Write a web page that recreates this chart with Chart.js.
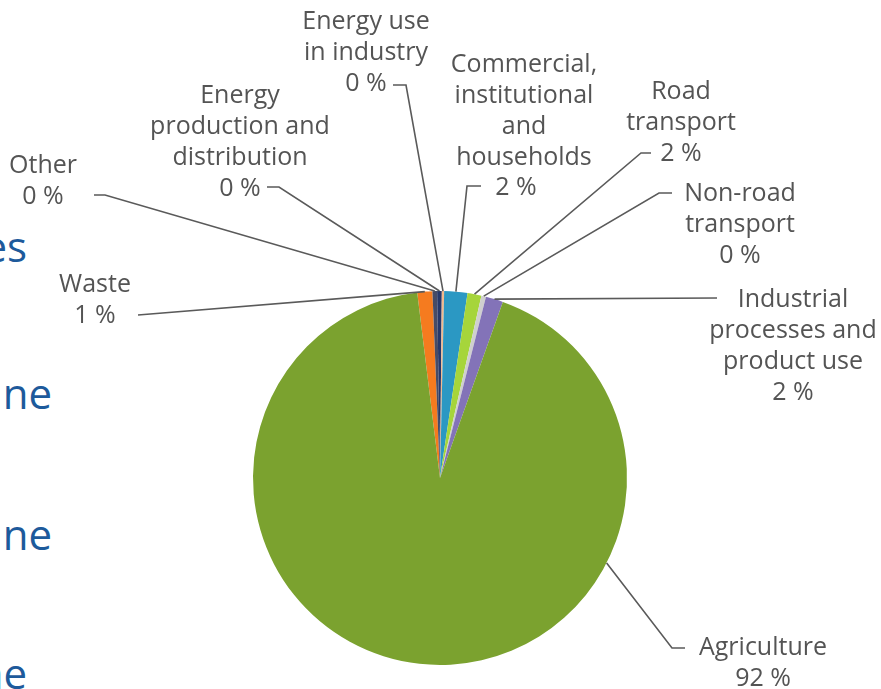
<!DOCTYPE html>
<html>
<head>
<meta charset="utf-8">
<script src="https://cdn.jsdelivr.net/npm/chart.js@4.4.1/dist/chart.umd.min.js"></script>
<style>
  html, body { margin: 0; padding: 0; background: #ffffff; }
  body { width: 881px; height: 689px; position: relative; overflow: hidden; }
  #wrap { position: absolute; left: 0; top: 0; width: 881px; height: 689px; }
  .frag { position: absolute; white-space: nowrap; font-family: "Open Sans", sans-serif; font-size: 42px; color: #1d5a9b; line-height: 1; }
</style>
</head>
<body>
<div class="frag" style="right:854px; top:225px;">es</div>
<div class="frag" style="right:829px; top:372px;">ane</div>
<div class="frag" style="right:829px; top:513px;">ane</div>
<div class="frag" style="right:854px; top:652px;">ne</div>
<div id="wrap"><canvas id="c" width="881" height="689"></canvas></div>
<script>
// ---- data ----
const categories = [
  "Waste",
  "Other",
  "Energy production and distribution",
  "Energy use in industry",
  "Commercial, institutional and households",
  "Road transport",
  "Non-road transport",
  "Industrial processes and product use",
  "Agriculture"
];
const shares = [1.3, 0.4, 0.4, 0.2, 2.0, 1.2, 0.4, 1.5, 92.6];
const shareLabels = ["1 %", "0 %", "0 %", "0 %", "2 %", "2 %", "0 %", "2 %", "92 %"];
const nameLines = [
  ["Waste"],
  ["Other"],
  ["Energy", "production and", "distribution"],
  ["Energy use", "in industry"],
  ["Commercial,", "institutional", "and", "households"],
  ["Road", "transport"],
  ["Non-road", "transport"],
  ["Industrial", "processes and", "product use"],
  ["Agriculture"]
];
const sliceColors = ["#f57b1f", "#474c66", "#27386a", "#f2b98d", "#2b98c3", "#a6d53b", "#cfcfcf", "#8373b8", "#7ba22f"];

// ---- label layout (annotation positions) ----
const labelLayout = [
  { x: 95,  y: 285, leader: [[138, 315]] },
  { x: 43,  y: 166, leader: [[94, 195], [105, 195]] },
  { x: 240, y: 96,  leader: [[267, 187], [279, 187]] },
  { x: 366, y: 22,  leader: [[393, 85], [406, 85]] },
  { x: 524, y: 65,  pctX: 516, leader: [[481, 186], [467, 186]] },
  { x: 681, y: 92,  leader: [[651, 153], [641, 153]] },
  { x: 740, y: 194, leader: [[672, 193], [659, 193]] },
  { x: 793, y: 300, leader: [[717, 298]] },
  { x: 763, y: 648, leader: [[685, 648], [672, 648]], anchorDeg: 117 }
];

const labelPlugin = {
  id: 'leaderLabels',
  afterDraw(chart) {
    const ctx = chart.ctx;
    const meta = chart.getDatasetMeta(0);
    ctx.save();
    ctx.strokeStyle = '#5a5a5a';
    ctx.lineWidth = 1.6;
    ctx.font = '25px "Open Sans"';
    ctx.fillStyle = '#545454';
    ctx.textAlign = 'center';
    ctx.textBaseline = 'middle';
    const lh = 30.8;
    meta.data.forEach((arc, i) => {
      const L = labelLayout[i];
      const p = arc.getProps(['x', 'y', 'startAngle', 'endAngle', 'outerRadius'], true);
      let a = (p.startAngle + p.endAngle) / 2;
      if (L.anchorDeg !== undefined) a = (L.anchorDeg - 90) * Math.PI / 180;
      const ax = p.x + p.outerRadius * Math.cos(a);
      const ay = p.y + p.outerRadius * Math.sin(a);
      ctx.beginPath();
      ctx.moveTo(L.leader[0][0], L.leader[0][1]);
      for (let k = 1; k < L.leader.length; k++) ctx.lineTo(L.leader[k][0], L.leader[k][1]);
      ctx.lineTo(ax, ay);
      ctx.stroke();
      const lines = nameLines[i];
      lines.forEach((t, j) => ctx.fillText(t, L.x, L.y + j * lh));
      ctx.fillText(shareLabels[i], L.pctX !== undefined ? L.pctX : L.x, L.y + lines.length * lh);
    });
    ctx.restore();
  }
};

function build() {
  new Chart(document.getElementById('c'), {
    type: 'pie',
    data: {
      labels: categories,
      datasets: [{
        data: shares,
        backgroundColor: sliceColors,
        borderWidth: 0
      }]
    },
    options: {
      responsive: false,
      animation: false,
      rotation: -7,
      layout: { padding: { left: 253, right: 254, top: 291, bottom: 24 } },
      plugins: { legend: { display: false }, tooltip: { enabled: false } }
    },
    plugins: [labelPlugin]
  });
}
if (document.fonts && document.fonts.load) {
  document.fonts.load('25px "Open Sans"').then(build, build);
} else { build(); }
</script>
</body>
</html>
